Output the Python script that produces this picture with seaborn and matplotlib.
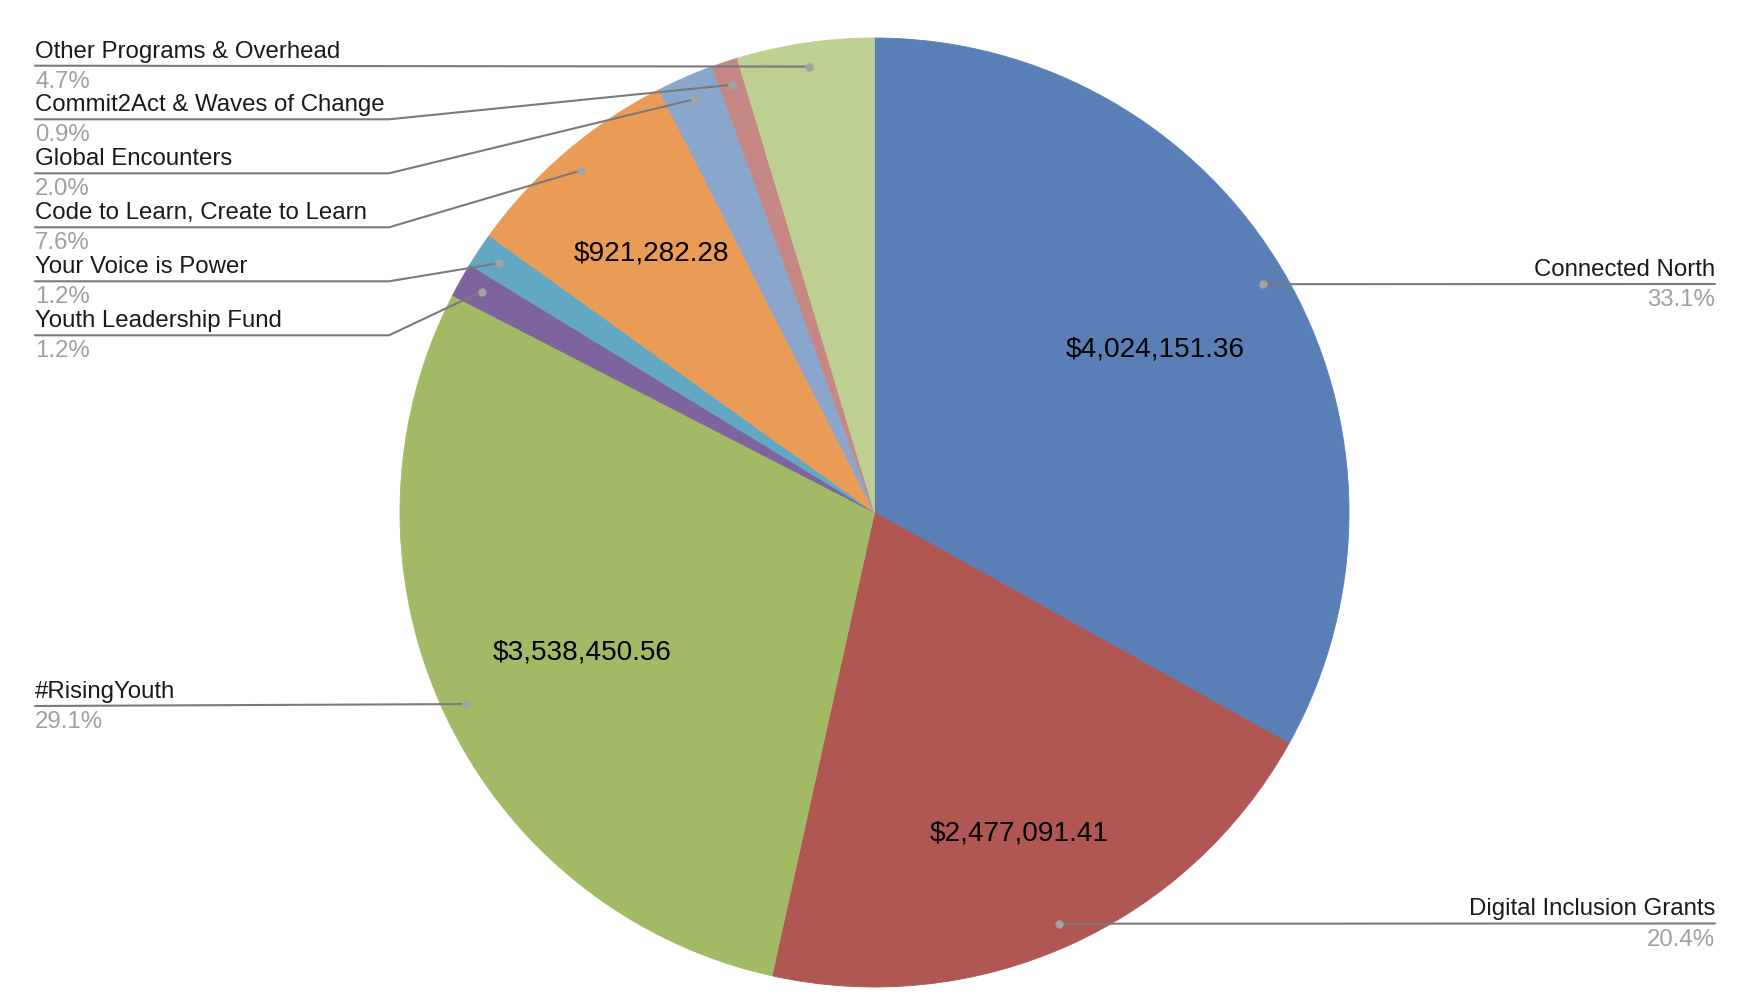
#pie chart of program spending with leader line labels

import numpy as np
import matplotlib
matplotlib.use('Agg')
import matplotlib.pyplot as plt
import seaborn as sns

programas = ['Connected North', 'Digital Inclusion Grants', '#RisingYouth', 'Youth Leadership Fund',
             'Your Voice is Power', 'Code to Learn, Create to Learn', 'Global Encounters',
             'Commit2Act & Waves of Change', 'Other Programs & Overhead']
valores = [4024151.36, 2477091.41, 3538450.56, 143000, 143000, 921282.28, 238000, 107000, 568000]
valores_visiveis = ['$4,024,151.36', '$2,477,091.41', '$3,538,450.56', None, None, '$921,282.28', None, None, None]
cores = ['#5A7FB6', '#B05653', '#A2BA66', '#7E649E', '#63A8C3', '#EA9B56', '#8BA6CD', '#C58884', '#BDCF91']

W, H = 1754, 1008
CX, CY, R = 874.5, 512.5, 474.5 #centro e raio em pixels (y medido do topo)
COR_LINHA = '#7a7a7a'
COR_PONTO = '#a3a3a3'
COR_PCT = '#a0a0a0'
TAM = 17.3

sns.set_theme(style='white')
plt.rcParams['font.family'] = ['Liberation Sans', 'DejaVu Sans']

fig = plt.figure(figsize=(W / 100, H / 100), dpi=100)
ax = fig.add_axes([0, 0, 1, 1])

#helper: y from top of the image to axes y
def py(y):
    return H - y

fatias, _ = ax.pie(valores, colors=sns.color_palette(cores), startangle=90, counterclock=False,
                   center=(CX, py(CY)), radius=R)
for fatia in fatias: #edge in the slice colour so no white seam shows between slices
    fatia.set_edgecolor(fatia.get_facecolor())
    fatia.set_linewidth(0.6)
ax.set_xlim(0, W)
ax.set_ylim(0, H)
ax.set_aspect('equal')
ax.axis('off')

total = sum(valores)
acumulado = np.cumsum(valores) - np.array(valores) / 2
angulos = acumulado / total * 2 * np.pi #mid angle of each slice, clockwise from the top

#where the label text sits: line y and which side
linhas_y = [284, 923.5, 706, 335.3, 281.3, 227.3, 173.3, 119.3, 65.7]
lado = ['d', 'd', 'e', 'e', 'e', 'e', 'e', 'e', 'e']
X_ESQ, X_COTOVELO, X_DIR = 35, 389, 1715

#small nudges for the value labels, in pixels
ajuste_x = [0, 12, 2, 0, 0, -11, 0, 0, 0]
ajuste_y = [2, 25, 2, 0, 0, -12, 0, 0, 0]

for i, nome in enumerate(programas):
    ang = angulos[i]
    px_ponto = CX + 0.95 * R * np.sin(ang)
    py_ponto = CY - 0.95 * R * np.cos(ang)
    y = linhas_y[i]
    pct = f'{valores[i] / total * 100:.1f}%'

    if lado[i] == 'd':
        xs = [X_DIR, px_ponto]
        ys = [y, py_ponto]
        x_txt, ha = X_DIR, 'right'
    else:
        if abs(py_ponto - y) < 3 or nome == '#RisingYouth':
            xs = [X_ESQ, px_ponto]
            ys = [y, py_ponto]
        else:
            xs = [X_ESQ, X_COTOVELO, px_ponto]
            ys = [y, y, py_ponto]
        x_txt, ha = X_ESQ, 'left'

    ax.plot(xs, [py(v) for v in ys], color=COR_LINHA, lw=1.5, solid_joinstyle='miter', zorder=3)
    ax.plot([px_ponto], [py(py_ponto)], 'o', color=COR_PONTO, ms=6, mew=0, zorder=4)
    ax.text(x_txt, py(y - 8), nome, ha=ha, va='baseline', fontsize=TAM, color='#1a1a1a')
    ax.text(x_txt, py(y + 22), pct, ha=ha, va='baseline', fontsize=TAM, color=COR_PCT)

    if valores_visiveis[i]:
        ax.text(CX + 0.685 * R * np.sin(ang) + ajuste_x[i], py(CY - 0.685 * R * np.cos(ang) + ajuste_y[i]),
                valores_visiveis[i], ha='center', va='center', fontsize=20.2, color='black', zorder=5)

plt.savefig('out.png', dpi=100, facecolor='white')
